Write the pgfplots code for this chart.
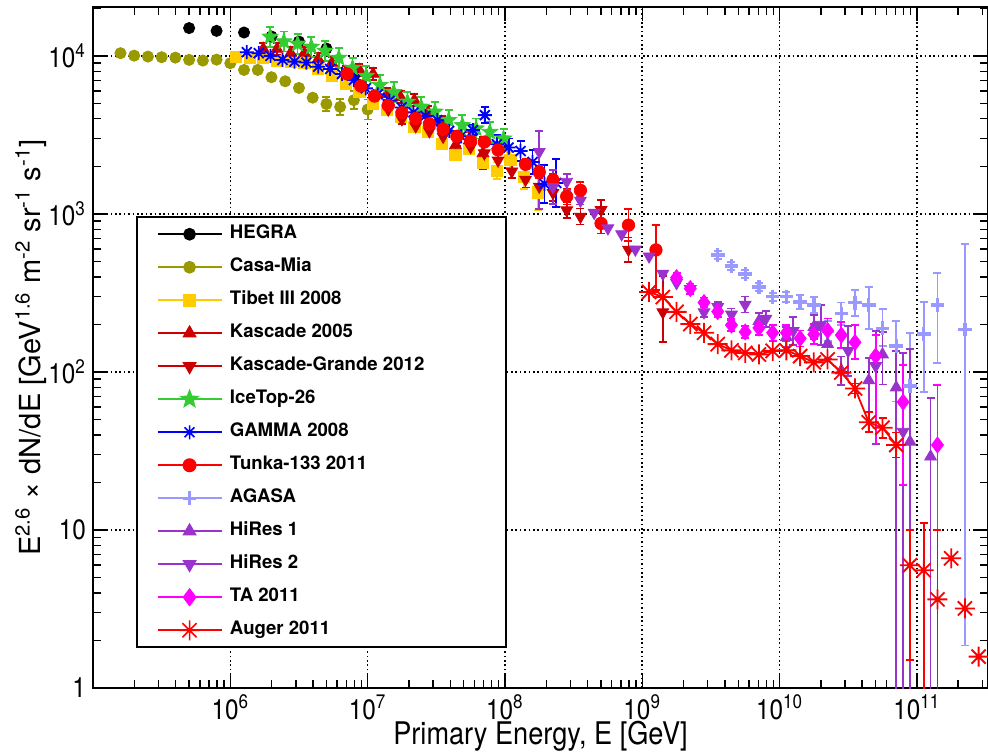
\documentclass[border=0pt]{standalone}
\usepackage{fontspec}
\setmainfont{TeX Gyre Heros}
\newfontfamily\condfont[FakeStretch=0.87]{TeX Gyre Heros}
\usepackage{pgfplots}
\pgfplotsset{compat=1.18}
\usetikzlibrary{plotmarks}

\definecolor{cCasa}{RGB}{153,153,0}
\definecolor{cTibet}{RGB}{255,204,0}
\definecolor{cKas}{RGB}{204,0,0}
\definecolor{cIce}{RGB}{51,204,51}
\definecolor{cGamma}{RGB}{0,0,255}
\definecolor{cRed}{RGB}{255,0,0}
\definecolor{cAgasa}{RGB}{153,153,255}
\definecolor{cHiRes}{RGB}{153,51,204}
\definecolor{cTA}{RGB}{255,0,255}

% 8-armed asterisk (ROOT marker 3)
\pgfdeclareplotmark{ast8}{%
  \pgfpathmoveto{\pgfqpoint{-\pgfplotmarksize}{0pt}}%
  \pgfpathlineto{\pgfqpoint{\pgfplotmarksize}{0pt}}%
  \pgfpathmoveto{\pgfqpoint{0pt}{-\pgfplotmarksize}}%
  \pgfpathlineto{\pgfqpoint{0pt}{\pgfplotmarksize}}%
  \pgfpathmoveto{\pgfqpoint{-0.7071\pgfplotmarksize}{-0.7071\pgfplotmarksize}}%
  \pgfpathlineto{\pgfqpoint{0.7071\pgfplotmarksize}{0.7071\pgfplotmarksize}}%
  \pgfpathmoveto{\pgfqpoint{-0.7071\pgfplotmarksize}{0.7071\pgfplotmarksize}}%
  \pgfpathlineto{\pgfqpoint{0.7071\pgfplotmarksize}{-0.7071\pgfplotmarksize}}%
  \pgfusepathqstroke}
% filled five-point star
\pgfdeclareplotmark{fstar}{%
  \pgfpathmoveto{\pgfqpointpolar{90}{\pgfplotmarksize}}%
  \pgfpathlineto{\pgfqpointpolar{126}{0.42\pgfplotmarksize}}%
  \pgfpathlineto{\pgfqpointpolar{162}{\pgfplotmarksize}}%
  \pgfpathlineto{\pgfqpointpolar{198}{0.42\pgfplotmarksize}}%
  \pgfpathlineto{\pgfqpointpolar{234}{\pgfplotmarksize}}%
  \pgfpathlineto{\pgfqpointpolar{270}{0.42\pgfplotmarksize}}%
  \pgfpathlineto{\pgfqpointpolar{306}{\pgfplotmarksize}}%
  \pgfpathlineto{\pgfqpointpolar{342}{0.42\pgfplotmarksize}}%
  \pgfpathlineto{\pgfqpointpolar{18}{\pgfplotmarksize}}%
  \pgfpathlineto{\pgfqpointpolar{54}{0.42\pgfplotmarksize}}%
  \pgfpathclose\pgfusepathqfillstroke}

\pgfplotsset{
  eb/.style={error bars/y dir=both, error bars/y explicit relative,
    error bars/error bar style={line width=0.9pt},
    error bars/error mark options={rotate=90, line width=0.9pt, mark size=2pt}},
}

\begin{document}
\begin{tikzpicture}
\begin{axis}[
    scale only axis, width=447.5pt, height=340.35pt,
    xmode=log, ymode=log,
    xmin=1e5, xmax=3.3e11, ymin=1, ymax=2.03e4,
    axis line style={line width=1pt},
    tick align=inside, major tick length=7pt, minor tick length=4pt,
    tick style={black, line width=0.7pt},
    xtick={1e5,1e6,1e7,1e8,1e9,1e10,1e11},
    xticklabels={{},10\textsuperscript{6},10\textsuperscript{7},10\textsuperscript{8},10\textsuperscript{9},10\textsuperscript{10},10\textsuperscript{11}},
    minor xtick={2e5,3e5,4e5,5e5,6e5,7e5,8e5,9e5,2e6,3e6,4e6,5e6,6e6,7e6,8e6,9e6,
      2e7,3e7,4e7,5e7,6e7,7e7,8e7,9e7,2e8,3e8,4e8,5e8,6e8,7e8,8e8,9e8,
      2e9,3e9,4e9,5e9,6e9,7e9,8e9,9e9,2e10,3e10,4e10,5e10,6e10,7e10,8e10,9e10,2e11,3e11},
    ytick={1,10,100,1000,10000},
    yticklabels={1,10,10\textsuperscript{2},10\textsuperscript{3},10\textsuperscript{4}},
    minor ytick={2,3,4,5,6,7,8,9,20,30,40,50,60,70,80,90,200,300,400,500,600,700,800,900,
      2000,3000,4000,5000,6000,7000,8000,9000,20000},
    tick label style={font=\condfont\fontsize{14}{16}\selectfont},
    grid=major,
    grid style={black, line width=0.8pt, dash pattern=on 0.8pt off 1.4pt},
    xlabel={Primary Energy, E [GeV]},
    ylabel={E\textsuperscript{2.6} × dN/dE [GeV\textsuperscript{1.6} m\textsuperscript{-2} sr\textsuperscript{-1} s\textsuperscript{-1}]},
    xlabel style={font=\condfont\fontsize{15.6}{18}\selectfont, at={(axis description cs:0.5,-0.0837)}, anchor=base},
    ylabel style={font=\fontsize{14.5}{17}\selectfont, at={(axis description cs:-0.0592,0.5)}, anchor=base},
    legend style={at={(axis description cs:0.048,0.0587)}, anchor=south west,
      draw=black, line width=0.8pt, fill=white,
      font=\bfseries\fontsize{9.3}{11}\selectfont,
      inner xsep=10pt, inner ysep=1.75pt, row sep=3pt, column sep=1.8pt,
      nodes={inner xsep=2pt, inner ysep=2pt, text height=7pt, text depth=2.5pt}},
    legend cell align=left,
    legend image post style={xscale=1.875, line width=0.8pt,
      every mark/.append style={xscale=0.5333}},
]

% HEGRA
\addplot[forget plot, only marks, color=black, mark=*, mark size=2.8pt] coordinates {
 (5.012e5,15000) (7.943e5,14400) (1.259e6,14060) (1.995e6,13270) (3.162e6,12330)
 (5.012e6,11130) (7.943e6,7400)
};
% Casa-Mia
\addplot[forget plot, only marks, color=cCasa, mark=*, mark size=2.8pt, eb] coordinates {
 (1.585e5,10400) (1.995e5,10040) (2.512e5,9900) (3.162e5,9810) (3.981e5,9750)
 (5.012e5,9440) (6.310e5,9340) (7.943e5,9470) (1e6,8990) (1.259e6,8150)
 (1.585e6,8150) (1.995e6,7330) (2.512e6,6910) (3.162e6,6270) (3.981e6,5440)
 (5.012e6,4960) += (0,0.108) -= (0,0.097)
 (6.310e6,4760) += (0,0.124) -= (0,0.110)
 (7.943e6,5250) += (0,0.141) -= (0,0.124)
 (1e7,4580) += (0,0.157) -= (0,0.136)
};
% Tibet III 2008
\addplot[forget plot, only marks, color=cTibet, mark=square*, mark size=2.8pt, eb] coordinates {
 (1.096e6,9900) (1.380e6,9750) (1.738e6,9670) (2.188e6,9340) (2.754e6,9200)
 (3.467e6,8990) (4.365e6,8270) (5.495e6,7500) (6.918e6,6640) (8.710e6,5930)
 (1.096e7,4950) (1.380e7,4540) (1.738e7,4120) (2.188e7,3560) (2.754e7,3310)
 (3.467e7,2760) (4.365e7,2350)
 (5.495e7,2590) += (0,0.076) -= (0,0.071)
 (6.918e7,2110) += (0,0.092) -= (0,0.084)
 (8.710e7,1880) += (0,0.124) -= (0,0.110)
 (1.096e8,2200) += (0,0.124) -= (0,0.110)
 (1.380e8,1710) += (0,0.192) -= (0,0.161)
 (1.738e8,1370) += (0,0.302) -= (0,0.232)
};
% Kascade 2005
\addplot[forget plot, only marks, color=cKas, mark=triangle*, mark size=3.4pt, eb] coordinates {
 (1.738e6,11080) += (0,0.092) -= (0,0.084)
 (2.188e6,11080) += (0,0.092) -= (0,0.084)
 (2.754e6,10450) += (0,0.092) -= (0,0.084)
 (3.467e6,10450) += (0,0.092) -= (0,0.084)
 (4.365e6,9570) += (0,0.092) -= (0,0.084)
 (5.495e6,9030) += (0,0.092) -= (0,0.084)
 (6.918e6,7910) += (0,0.092) -= (0,0.084)
 (8.710e6,8150) += (0,0.092) -= (0,0.084)
 (1.096e7,7690) += (0,0.092) -= (0,0.084)
 (1.380e7,5730) += (0,0.092) -= (0,0.084)
 (1.738e7,5480) += (0,0.092) -= (0,0.084)
 (2.188e7,5250) += (0,0.092) -= (0,0.084)
 (2.754e7,4400) += (0,0.092) -= (0,0.084)
 (3.467e7,3800) += (0,0.092) -= (0,0.084)
 (4.365e7,2720) += (0,0.157) -= (0,0.136)
 (5.495e7,2920) += (0,0.124) -= (0,0.110)
 (6.918e7,2420) += (0,0.264) -= (0,0.209)
};
% Kascade-Grande 2012
\addplot[forget plot, only marks, color=cKas, mark=triangle*, mark options={rotate=180}, mark size=3.4pt, eb] coordinates {
 (1.413e7,4580) += (0,0.076) -= (0,0.071)
 (1.778e7,3980) += (0,0.076) -= (0,0.071)
 (2.239e7,3590) += (0,0.076) -= (0,0.071)
 (2.818e7,3340) += (0,0.076) -= (0,0.071)
 (3.548e7,3080) += (0,0.076) -= (0,0.071)
 (4.467e7,2880) += (0,0.076) -= (0,0.071)
 (5.623e7,2650) += (0,0.092) -= (0,0.084)
 (7.079e7,2420) += (0,0.108) -= (0,0.097)
 (8.913e7,2180) += (0,0.108) -= (0,0.097)
 (1.122e8,1860) += (0,0.108) -= (0,0.097)
 (1.413e8,1650) += (0,0.124) -= (0,0.110)
 (1.778e8,1490) += (0,0.124) -= (0,0.110)
 (2.239e8,1360) += (0,0.124) -= (0,0.110)
 (2.818e8,1055) += (0,0.124) -= (0,0.110)
 (3.548e8,962) += (0,0.124) -= (0,0.110)
 (5.012e8,1060) += (0,0.157) -= (0,0.136)
 (7.943e8,595) += (0,0.192) -= (0,0.161)
 (1.413e9,239) += (0,0.694) -= (0,0.355)
};
% IceTop-26
\addplot[forget plot, only marks, color=cIce, mark=fstar, mark size=4.2pt, eb] coordinates {
 (1.950e6,13210) += (0,0.157) -= (0,0.136)
 (2.455e6,12330) += (0,0.157) -= (0,0.136)
 (3.090e6,11920) += (0,0.157) -= (0,0.136)
 (3.890e6,11410) += (0,0.157) -= (0,0.136)
 (4.898e6,10760) += (0,0.157) -= (0,0.136)
 (6.166e6,9710) += (0,0.157) -= (0,0.136)
 (7.762e6,8390) += (0,0.157) -= (0,0.136)
 (9.772e6,7460) += (0,0.157) -= (0,0.136)
 (1.230e7,6540) += (0,0.157) -= (0,0.136)
 (1.549e7,5900) += (0,0.157) -= (0,0.136)
 (1.950e7,5120) += (0,0.157) -= (0,0.136)
 (2.455e7,4760) += (0,0.157) -= (0,0.136)
 (3.090e7,4430) += (0,0.157) -= (0,0.136)
 (3.890e7,3920) += (0,0.157) -= (0,0.136)
 (4.898e7,3640) += (0,0.157) -= (0,0.136)
 (6.166e7,3470) += (0,0.157) -= (0,0.136)
 (7.762e7,3300) += (0,0.157) -= (0,0.136)
 (9.772e7,2996) += (0,0.157) -= (0,0.136)
};
% GAMMA 2008
\addplot[forget plot, only marks, color=cGamma, mark=ast8, mark size=3.5pt, line width=0.9pt, eb] coordinates {
 (1.318e6,10560) (1.611e6,10400) (1.963e6,10000) (2.399e6,9430) (2.931e6,9200)
 (3.581e6,9070) (4.365e6,8550) (5.333e6,8270) (6.516e6,7690) (7.943e6,7040)
 (9.705e6,6230) (1.186e7,5710) (1.445e7,5200) (1.766e7,4720) (2.158e7,4390)
 (2.636e7,4170) (3.214e7,3920) (3.926e7,3350) (4.797e7,3100)
 (5.848e7,3390) += (0,0.076) -= (0,0.071)
 (7.145e7,4220) += (0,0.124) -= (0,0.110)
 (8.730e7,2760) += (0,0.141) -= (0,0.124)
 (1.064e8,2630) += (0,0.141) -= (0,0.124)
 (1.300e8,2500) += (0,0.157) -= (0,0.136)
 (1.589e8,2130) += (0,0.192) -= (0,0.161)
 (1.941e8,1550) += (0,0.321) -= (0,0.243)
 (2.366e8,1570) += (0,0.421) -= (0,0.296)
};
% Tunka-133 2011
\addplot[forget plot, only marks, color=cRed, mark=*, mark size=3.1pt, eb] coordinates {
 (7.079e6,7690) (8.913e6,6450) (1.122e7,5570) (1.413e7,4850) (1.778e7,4370)
 (2.239e7,4020) (2.818e7,3710) (3.548e7,3430) (4.467e7,3100) (5.623e7,2890)
 (7.079e7,2850) (8.913e7,2540)
 (1.413e8,2060) += (0,0.076) -= (0,0.071)
 (1.778e8,1840) += (0,0.092) -= (0,0.084)
 (2.239e8,1640) += (0,0.092) -= (0,0.084)
 (2.818e8,1290) += (0,0.124) -= (0,0.110)
 (3.548e8,1410) += (0,0.124) -= (0,0.110)
 (5.012e8,871) += (0,0.157) -= (0,0.136)
 (7.943e8,849) += (0,0.264) -= (0,0.209)
 (1.259e9,592) += (0,0.442) -= (0,0.443)
};
% AGASA
\addplot[forget plot, only marks, color=cAgasa, mark=+, mark size=3.4pt, line width=1.7pt, eb,
  error bars/error bar style={line width=0.9pt}] coordinates {
 (3.548e9,551) += (0,0.060) -= (0,0.057)
 (4.467e9,469) += (0,0.060) -= (0,0.057)
 (5.623e9,416) += (0,0.060) -= (0,0.057)
 (7.079e9,345) += (0,0.060) -= (0,0.057)
 (8.913e9,299) += (0,0.060) -= (0,0.057)
 (1.122e10,299) += (0,0.076) -= (0,0.071)
 (1.413e10,277) += (0,0.108) -= (0,0.097)
 (1.778e10,265) += (0,0.124) -= (0,0.110)
 (2.239e10,181) += (0,0.157) -= (0,0.136)
 (2.818e10,234) += (0,0.175) -= (0,0.149)
 (3.548e10,274) += (0,0.210) -= (0,0.174)
 (4.467e10,265) += (0,0.302) -= (0,0.296)
 (5.623e10,189) += (0,0.321) -= (0,0.232)
 (7.079e10,145.6) += (0,0.442) -= (0,0.553)
 (8.913e10,81.3) += (0,1.173) -= (0,0.99)
 (1.122e11,174) += (0,0.597) -= (0,0.572)
 (1.413e11,265) += (0,0.597) -= (0,0.572)
 (2.239e11,186) += (0,2.470) -= (0,0.99)
};
% HiRes 1
\addplot[forget plot, only marks, color=cHiRes, mark=triangle*, mark size=3.4pt, eb] coordinates {
 (7.079e9,210) += (0,0.124) -= (0,0.110)
 (1.122e10,166) += (0,0.157) -= (0,0.136)
 (1.778e10,192) += (0,0.192) -= (0,0.161)
 (2.239e10,150) += (0,0.245) -= (0,0.197)
 (2.818e10,102) += (0,0.227) -= (0,0.185)
 (4.467e10,88.4) += (0,0.380) -= (0,0.365)
 (5.623e10,129) += (0,0.380) -= (0,0.355)
 (7.079e10,79.8) += (0,0.694) -= (0,0.99)
 (8.913e10,36.2) += (0,2.846) -= (0,0.99)
 (1.259e11,29.1) += (0,1.338) -= (0,0.99)
};
% HiRes 2
\addplot[forget plot, only marks, color=cHiRes, mark=triangle*, mark options={rotate=180}, mark size=3.4pt, eb] coordinates {
 (1.778e8,2470) += (0,0.360) -= (0,0.566)
 (2.239e8,1480) += (0,0.283) -= (0,0.220)
 (2.818e8,1600) += (0,0.124) -= (0,0.110)
 (3.548e8,1215) += (0,0.060) -= (0,0.057)
 (4.467e8,1017) (5.623e8,812) (7.079e8,745) (8.913e8,596) (1.122e9,539)
 (1.413e9,419) (1.778e9,366) (2.239e9,335)
 (2.818e9,239) += (0,0.076) -= (0,0.071)
 (3.548e9,258) += (0,0.076) -= (0,0.071)
 (4.467e9,231) += (0,0.092) -= (0,0.084)
 (5.623e9,267) += (0,0.124) -= (0,0.110)
 (7.943e9,217) += (0,0.124) -= (0,0.110)
 (1.259e10,182) += (0,0.227) -= (0,0.185)
 (1.995e10,199) += (0,0.340) -= (0,0.254)
 (3.162e10,136) += (0,0.442) -= (0,0.306)
 (5.012e10,109) += (0,0.669) -= (0,0.681)
 (7.943e10,41.9) += (0,2.130) -= (0,0.99)
};
% TA 2011
\addplot[forget plot, only marks, color=cTA, mark=diamond*, mark size=4pt, eb] coordinates {
 (1.778e9,395) += (0,0.076) -= (0,0.071)
 (2.239e9,337) += (0,0.076) -= (0,0.071)
 (2.818e9,275) += (0,0.076) -= (0,0.071)
 (3.548e9,241) += (0,0.076) -= (0,0.071)
 (4.467e9,198) += (0,0.092) -= (0,0.084)
 (5.623e9,179) += (0,0.092) -= (0,0.084)
 (7.079e9,190) += (0,0.108) -= (0,0.097)
 (8.913e9,177) += (0,0.124) -= (0,0.110)
 (1.122e10,177) += (0,0.124) -= (0,0.110)
 (1.413e10,163) += (0,0.124) -= (0,0.110)
 (1.778e10,173) += (0,0.157) -= (0,0.136)
 (2.239e10,183) += (0,0.192) -= (0,0.161)
 (2.818e10,171) += (0,0.210) -= (0,0.174)
 (3.548e10,154) += (0,0.283) -= (0,0.220)
 (5.012e10,126) += (0,0.360) -= (0,0.720)
 (7.943e10,64.5) += (0,0.718) -= (0,0.703)
 (1.413e11,34.5) += (0,1.406) -= (0,0.99)
};
% Auger 2011
\addplot[forget plot, color=cRed, mark=ast8, mark size=5pt, line width=0.9pt, eb] coordinates {
 (1.122e9,321) (1.413e9,298) (1.778e9,240) (2.239e9,201) (2.818e9,177)
 (3.548e9,150) (4.467e9,137) (5.623e9,132) (7.079e9,129) (8.913e9,136)
 (1.122e10,137) (1.413e10,126) (1.778e10,115) (2.239e10,120) (2.818e10,99)
 (3.548e10,78.6) += (0,0.076) -= (0,0.071)
 (4.467e10,48.0) += (0,0.157) -= (0,0.136)
 (5.623e10,44.4) += (0,0.157) -= (0,0.136)
 (7.079e10,34.5) += (0,0.201) -= (0,0.167)
};
\addplot[forget plot, only marks, color=cRed, mark=ast8, mark size=5pt, line width=0.9pt, eb] coordinates {
 (8.913e10,5.98) += (0,0.669) -= (0,0.747)
 (1.122e11,5.56) += (0,0.990) -= (0,0.99)
 (1.413e11,3.64) += (0,1.746) -= (0,0.99)
 (1.778e11,6.62) (2.239e11,3.19) (2.818e11,1.58)
};

% legend
\addlegendimage{color=black, mark=*, mark size=2.8pt}
\addlegendimage{color=cCasa, mark=*, mark size=2.8pt}
\addlegendimage{color=cTibet, mark=square*, mark size=2.8pt}
\addlegendimage{color=cKas, mark=triangle*, mark size=3.4pt}
\addlegendimage{color=cKas, mark=triangle*, mark size=3.4pt, mark options={rotate=180}}
\addlegendimage{color=cIce, mark=fstar, mark size=4.2pt}
\addlegendimage{color=cGamma, mark=ast8, mark size=3.5pt}
\addlegendimage{color=cRed, mark=*, mark size=3.1pt}
\addlegendimage{color=cAgasa, mark=+, mark size=3.4pt, mark options={line width=1.7pt}}
\addlegendimage{color=cHiRes, mark=triangle*, mark size=3.4pt}
\addlegendimage{color=cHiRes, mark=triangle*, mark size=3.4pt, mark options={rotate=180}}
\addlegendimage{color=cTA, mark=diamond*, mark size=4pt}
\addlegendimage{color=cRed, mark=ast8, mark size=5pt}
\addlegendentry{\makebox[126pt][l]{HEGRA}}
\addlegendentry{\makebox[126pt][l]{Casa-Mia}}
\addlegendentry{\makebox[126pt][l]{Tibet III 2008}}
\addlegendentry{\makebox[126pt][l]{Kascade 2005}}
\addlegendentry{\makebox[126pt][l]{Kascade-Grande 2012}}
\addlegendentry{\makebox[126pt][l]{IceTop-26}}
\addlegendentry{\makebox[126pt][l]{GAMMA 2008}}
\addlegendentry{\makebox[126pt][l]{Tunka-133 2011}}
\addlegendentry{\makebox[126pt][l]{AGASA}}
\addlegendentry{\makebox[126pt][l]{HiRes 1}}
\addlegendentry{\makebox[126pt][l]{HiRes 2}}
\addlegendentry{\makebox[126pt][l]{TA 2011}}
\addlegendentry{\makebox[126pt][l]{Auger 2011}}
\end{axis}
\pgfresetboundingbox
\useasboundingbox (-46.5pt,-32pt) rectangle (447.5pt,344pt);
\end{tikzpicture}
\end{document}
